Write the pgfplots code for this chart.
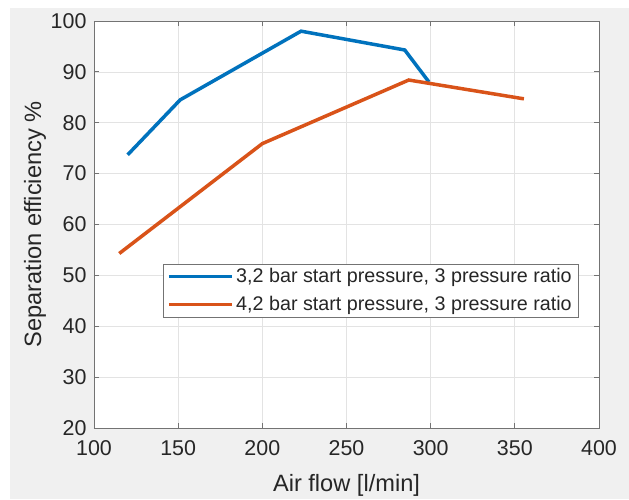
\documentclass[border=0pt]{standalone}
\usepackage{fontspec}
\setmainfont{Liberation Sans}
\usepackage{pgfplots}
\pgfplotsset{compat=1.18}
\definecolor{mblue}{HTML}{0072BD}
\definecolor{morange}{HTML}{D95319}
\definecolor{figbg}{HTML}{F0F0F0}
\definecolor{axgray}{HTML}{737373}
\definecolor{txt}{HTML}{262626}
\begin{document}
\begin{tikzpicture}[x=1bp,y=1bp]
\fill[white] (-94,-71) rectangle (535,428);
\fill[figbg] (-84,-71) rectangle (535,420);
\begin{axis}[
  scale only axis, width=505bp, height=407bp,
  xmin=100, xmax=400, ymin=20, ymax=100,
  xtick={100,150,...,400}, ytick={20,30,...,100},
  grid=major, grid style={color=black!11, line width=0.7bp},
  axis line style={axgray, line width=0.9bp},
  tick style={axgray, line width=0.9bp},
  tick align=inside, major tick length=5bp,
  axis background/.style={fill=white},
  tick label style={font=\fontsize{21.5}{25}\selectfont, text=txt},
  /pgf/number format/assume math mode=true,
  xticklabel style={yshift=-9bp},
  yticklabel style={xshift=-4bp},
  xlabel={Air flow [l/min]},
  ylabel={Separation efficiency \%},
  label style={font=\fontsize{23.7}{28}\selectfont, text=txt},
  xlabel style={at={(axis description cs:0.5,-0.140)}, anchor=center},
  ylabel style={at={(axis description cs:-0.1168,0.5)}, anchor=center},
  legend style={at={(0.1366,0.403)}, anchor=north west, draw=axgray, fill=white,
    font=\fontsize{19.8}{23}\selectfont, text=txt, inner xsep=4bp, inner ysep=2bp,
    row sep=7bp, nodes={inner sep=2.5bp}},
  legend cell align=left,
  legend image code/.code={\draw[#1] (0bp,0bp) -- (63bp,0bp);},
]
\addplot[mblue, line width=3.5bp] coordinates {
  (120,73.7) (151.2,84.5) (223,98.0) (284.6,94.3) (299,88.0)
};
\addlegendentry{3,2 bar start pressure, 3 pressure ratio}
\addplot[morange, line width=3.5bp] coordinates {
  (115,54.3) (200,75.9) (287,88.4) (355.4,84.7)
};
\addlegendentry{4,2 bar start pressure, 3 pressure ratio}
\end{axis}
\end{tikzpicture}
\end{document}
